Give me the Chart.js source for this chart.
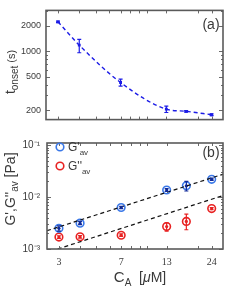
<!DOCTYPE html>
<html><head><meta charset="utf-8">
<script src="https://cdn.jsdelivr.net/npm/chart.js@4.4.1/dist/chart.umd.min.js"></script>
<style>
html,body{margin:0;padding:0;background:#fff;width:249px;height:294px;overflow:hidden}
#wa{position:absolute;left:0;top:0;width:249px;height:130px}
#wb{position:absolute;left:0;top:130px;width:249px;height:164px}
</style></head><body>
<div id="wa"><canvas id="ca"></canvas></div>
<div id="wb"><canvas id="cb"></canvas></div>
<script>
// ---- data ----
const conc = [3, 4, 7, 13, 17, 24];
const tOnset = [2230, 1180, 425, 205, 193, 176];
const tOnsetLo = [2180, 958, 385, 187, 189, 172];
const tOnsetHi = [2280, 1380, 465, 222, 197, 180];
const gPrime = [2.5e-3, 3.15e-3, 6.3e-3, 1.37e-2, 1.65e-2, 2.2e-2];
const gPrimeLo = [2.2e-3, 2.95e-3, 6.0e-3, 1.29e-2, 1.31e-2, 2.1e-2];
const gPrimeHi = [2.8e-3, 3.4e-3, 6.6e-3, 1.45e-2, 2.0e-2, 2.32e-2];
const gDouble = [1.7e-3, 1.72e-3, 1.84e-3, 2.7e-3, 3.4e-3, 6.0e-3];
const gDoubleLo = [1.6e-3, 1.62e-3, 1.75e-3, 2.2e-3, 2.35e-3, 5.7e-3];
const gDoubleHi = [1.8e-3, 1.82e-3, 1.95e-3, 3.2e-3, 4.7e-3, 6.3e-3];
const fitUpperX = [2.55, 28];
const fitUpperY = [2.25e-3, 2.75e-2];
const fitLowerX = [2.95, 28];
const fitLowerY = [1.0e-3, 1.07e-2];
const xTickLabels = [3, 7, 13, 24];
const xMinorTicks = [3, 4, 5, 6, 7, 8, 9, 10, 13, 20, 24];
const tTickLabels = [200, 500, 1000, 2000];
const tMinorTicks = [200, 300, 400, 500, 600, 700, 800, 900, 1000, 2000, 3000];
const gTickLabels = [1e-3, 1e-2, 1e-1];
const gMinorTicks = [1e-3,2e-3,3e-3,4e-3,5e-3,6e-3,7e-3,8e-3,9e-3,1e-2,2e-2,3e-2,4e-2,5e-2,6e-2,7e-2,8e-2,9e-2,1e-1];

const BLUE_A = '#1c1ce6';
const BLUE_O = '#3a78e8';
const BLUE_I = '#102a9a';
const RED = '#e82222';
const TXT = '#3a3a3a';
const SANS = '"Liberation Sans", Arial, sans-serif';

const pts = (xs, ys) => xs.map((x, i) => ({x, y: ys[i]}));

function drawRich(ctx, parts, cx, cy, rot) {
  ctx.save();
  ctx.translate(cx, cy);
  if (rot) ctx.rotate(rot);
  ctx.fillStyle = TXT;
  ctx.textBaseline = 'alphabetic';
  ctx.textAlign = 'left';
  let w = 0;
  parts.forEach(p => { ctx.font = p.f; w += ctx.measureText(p.t).width; });
  let x = -w / 2;
  parts.forEach(p => { ctx.font = p.f; ctx.fillText(p.t, x, p.dy || 0); x += ctx.measureText(p.t).width; });
  ctx.restore();
}

function framePlugin(xTicks, yTicks, yMajor) {
  return {
    id: 'frame',
    afterDatasetsDraw(chart) {
      const {ctx, chartArea: a, scales} = chart;
      ctx.save();
      ctx.strokeStyle = '#6a6a6a';
      ctx.lineWidth = 1;
      xTicks.forEach(v => {
        const px = Math.round(scales.x.getPixelForValue(v)) + 0.5;
        ctx.beginPath();
        ctx.moveTo(px, a.bottom); ctx.lineTo(px, a.bottom - 3);
        ctx.moveTo(px, a.top); ctx.lineTo(px, a.top + 3);
        ctx.stroke();
      });
      yTicks.forEach(v => {
        const py = Math.round(scales.y.getPixelForValue(v)) + 0.5;
        const len = yMajor.includes(v) ? 4 : 2;
        ctx.beginPath();
        ctx.moveTo(a.left, py); ctx.lineTo(a.left + len, py);
        ctx.moveTo(a.right, py); ctx.lineTo(a.right - len, py);
        ctx.stroke();
      });
      ctx.strokeStyle = '#5a5a5a';
      ctx.lineWidth = 1.6;
      ctx.strokeRect(a.left, a.top, a.right - a.left, a.bottom - a.top);
      ctx.restore();
    }
  };
}

const errPlugin = {
  id: 'errbars',
  afterDatasetsDraw(chart) {
    const {ctx, scales} = chart;
    chart.data.datasets.forEach(ds => {
      if (!ds.errLo) return;
      ctx.save();
      ctx.strokeStyle = ds.errColor;
      ctx.lineWidth = 1.2;
      ds.data.forEach((p, i) => {
        const x = scales.x.getPixelForValue(p.x);
        const y1 = scales.y.getPixelForValue(ds.errLo[i]);
        const y2 = scales.y.getPixelForValue(ds.errHi[i]);
        ctx.beginPath();
        ctx.moveTo(x, y1); ctx.lineTo(x, y2);
        ctx.moveTo(x - 2, y1); ctx.lineTo(x + 2, y1);
        ctx.moveTo(x - 2, y2); ctx.lineTo(x + 2, y2);
        ctx.stroke();
      });
      ctx.restore();
    });
  }
};

const textA = {
  id: 'textA',
  afterDraw(chart) {
    const ctx = chart.ctx;
    drawRich(ctx, [
      {t: 't', f: '14px ' + SANS},
      {t: 'onset', f: '10px ' + SANS, dy: 3},
      {t: ' (s)', f: '11px ' + SANS}
    ], 15, 72, -Math.PI / 2);
    drawRich(ctx, [{t: '(a)', f: '14px ' + SANS}], 211, 29, 0);
  }
};

const textB = {
  id: 'textB',
  afterDraw(chart) {
    const ctx = chart.ctx;
    drawRich(ctx, [
      {t: "G',G''", f: '14px ' + SANS},
      {t: 'av', f: '10px ' + SANS, dy: 3},
      {t: ' [Pa]', f: '14px ' + SANS}
    ], 15, 59, -Math.PI / 2);
    drawRich(ctx, [{t: '(b)', f: '14px ' + SANS}], 211, 27, 0);
    drawRich(ctx, [
      {t: 'C', f: '15px ' + SANS},
      {t: 'A', f: '10px ' + SANS, dy: 4},
      {t: '  [', f: '14px ' + SANS},
      {t: 'μ', f: 'italic 14px ' + SANS},
      {t: 'M]', f: '14px ' + SANS}
    ], 140, 152, 0);
    // legend
    const items = [[BLUE_O, "G'", 17], [RED, "G''", 36]];
    items.forEach(([c, t, y]) => {
      ctx.save();
      ctx.strokeStyle = c; ctx.lineWidth = 1.6;
      ctx.beginPath(); ctx.arc(60, y, 3.8, 0, Math.PI * 2); ctx.stroke();
      ctx.restore();
      ctx.save();
      ctx.fillStyle = TXT; ctx.textBaseline = 'alphabetic';
      ctx.font = '12px ' + SANS; ctx.fillText(t, 68, y + 4);
      const w = ctx.measureText(t).width;
      ctx.font = '8px ' + SANS; ctx.fillText('av', 68 + w, y + 8);
      ctx.restore();
    });
  }
};

const common = {
  responsive: true, maintainAspectRatio: false, animation: false, devicePixelRatio: 1,
  plugins: {legend: {display: false}, tooltip: {enabled: false}}
};

new Chart(document.getElementById('ca'), {
  type: 'line',
  data: {datasets: [{
    data: pts(conc, tOnset),
    borderColor: BLUE_A, borderWidth: 1.4, borderDash: [4, 3],
    cubicInterpolationMode: 'monotone',
    pointStyle: 'rect', pointRadius: 2, pointBackgroundColor: BLUE_A, pointBorderWidth: 0,
    errLo: tOnsetLo, errHi: tOnsetHi, errColor: BLUE_A
  }]},
  options: Object.assign({}, common, {
    layout: {padding: {left: 0, top: 10, right: 26, bottom: 2}},
    scales: {
      x: {type: 'logarithmic', min: 2.55, max: 28, display: false},
      y: {type: 'logarithmic', min: 154, max: 3050,
        afterBuildTicks: s => { s.ticks = tTickLabels.map(v => ({value: v})); },
        afterFit: s => { s.width = 46; },
        ticks: {callback: v => String(v), color: TXT, padding: 5, font: {family: SANS, size: 9}},
        grid: {display: false, drawTicks: false}, border: {display: false}}
    }
  }),
  plugins: [framePlugin(xMinorTicks, tMinorTicks, tTickLabels), errPlugin, textA]
});

new Chart(document.getElementById('cb'), {
  type: 'line',
  data: {datasets: [
    {data: pts(fitUpperX, fitUpperY), borderColor: '#111', borderWidth: 1.2, borderDash: [4, 3], pointRadius: 0},
    {data: pts(fitLowerX, fitLowerY), borderColor: '#111', borderWidth: 1.2, borderDash: [4, 3], pointRadius: 0},
    {data: pts(conc, gPrime), showLine: false, pointRadius: 3.8, pointBorderColor: BLUE_O, pointBorderWidth: 1.6, pointBackgroundColor: 'rgba(0,0,0,0)'},
    {data: pts(conc, gPrime), showLine: false, pointRadius: 1.6, pointBorderWidth: 0, pointBackgroundColor: BLUE_I,
      errLo: gPrimeLo, errHi: gPrimeHi, errColor: BLUE_I},
    {data: pts(conc, gDouble), showLine: false, pointRadius: 3.8, pointBorderColor: RED, pointBorderWidth: 1.6, pointBackgroundColor: 'rgba(0,0,0,0)'},
    {data: pts(conc, gDouble), showLine: false, pointRadius: 1.6, pointBorderWidth: 0, pointBackgroundColor: RED,
      errLo: gDoubleLo, errHi: gDoubleHi, errColor: RED}
  ]},
  options: Object.assign({}, common, {
    layout: {padding: {left: 0, top: 5, right: 26, bottom: 0}},
    scales: {
      x: {type: 'logarithmic', min: 2.55, max: 28,
        afterBuildTicks: s => { s.ticks = xTickLabels.map(v => ({value: v})); },
        afterFit: s => { s.height = 45; },
        ticks: {callback: v => String(v), color: TXT, padding: 7, maxRotation: 0, autoSkip: false,
          font: {family: '"Liberation Serif", serif', size: 10}},
        grid: {display: false, drawTicks: false}, border: {display: false}},
      y: {type: 'logarithmic', min: 1e-3, max: 0.11,
        afterBuildTicks: s => { s.ticks = gTickLabels.map(v => ({value: v})); },
        afterFit: s => { s.width = 47; },
        ticks: {callback: v => ({0.001: '10⁻³', 0.01: '10⁻²', 0.1: '10⁻¹'})[v] || '', color: TXT, padding: 7,
          font: {family: SANS, size: 10}},
        grid: {display: false, drawTicks: false}, border: {display: false}}
    }
  }),
  plugins: [framePlugin(xMinorTicks, gMinorTicks, gTickLabels), errPlugin, textB]
});
</script>
</body></html>
